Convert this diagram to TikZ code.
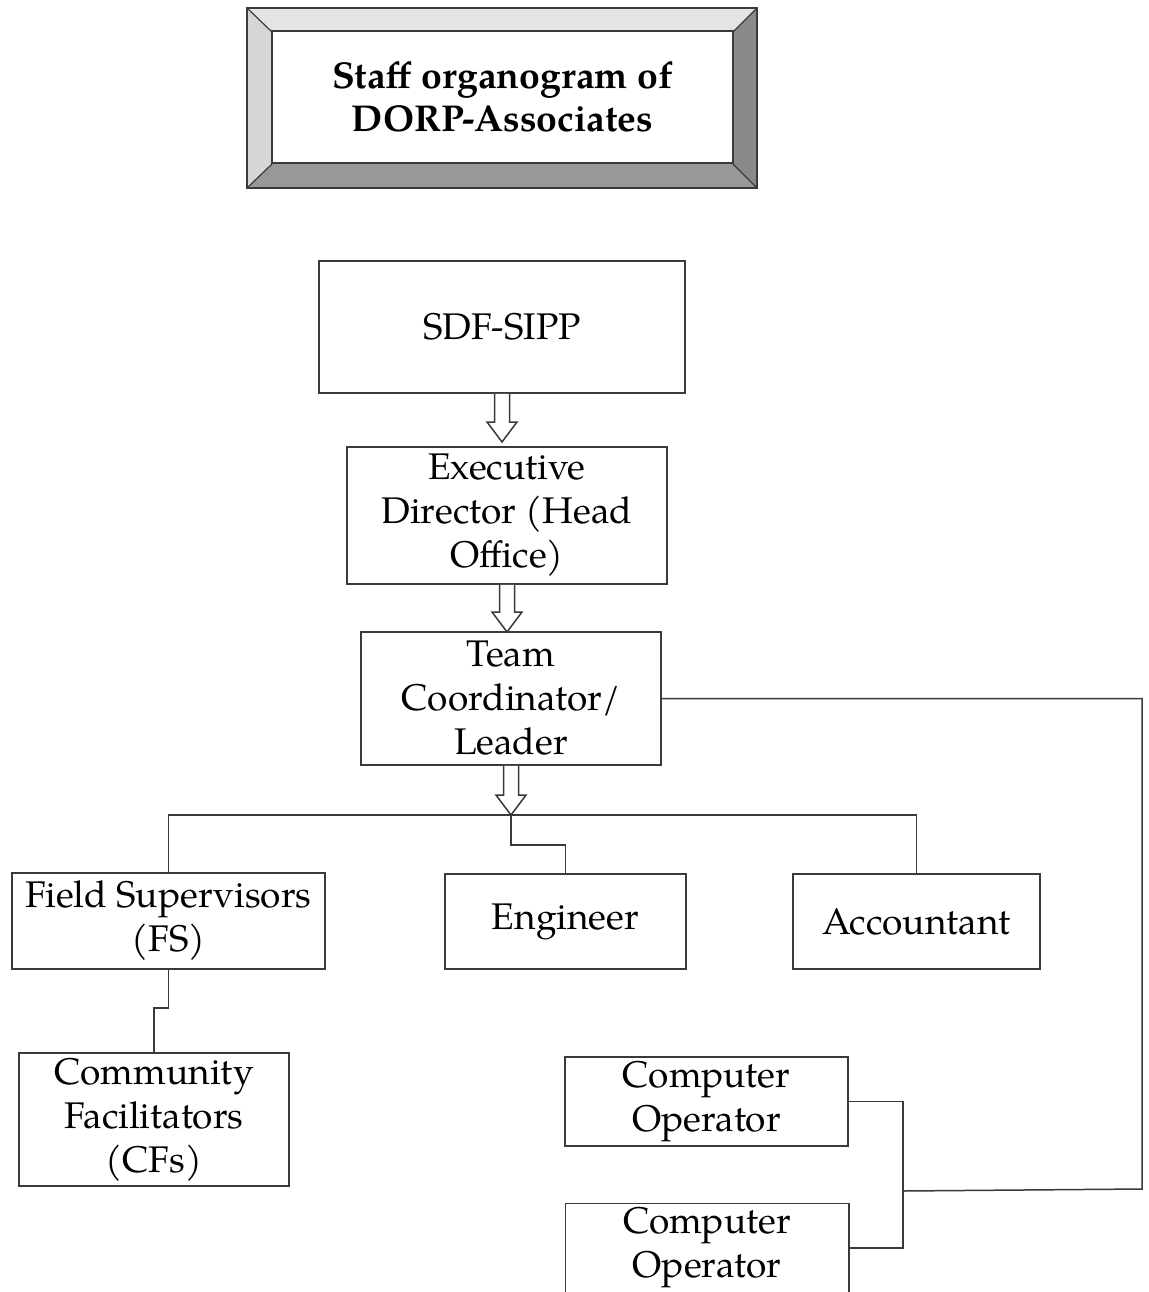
\documentclass[tikz,border=0pt]{standalone}
\usepackage{fontspec}
\setmainfont{TeX Gyre Pagella}
\usetikzlibrary{calc}
\definecolor{ln}{HTML}{3A3A3A}
\definecolor{bvtop}{HTML}{E4E4E4}
\definecolor{bvleft}{HTML}{D6D6D6}
\definecolor{bvright}{HTML}{8A8A8A}
\definecolor{bvbot}{HTML}{989898}
\tikzset{
  box/.style={draw=ln, line width=1.125pt, fill=white, inner sep=0pt, align=center,
    font=\fontsize{27.8}{33}\selectfont},
  conn/.style={draw=ln, line width=1.125pt},
  harrow/.style={draw=ln, line width=1.125pt, fill=white, line join=miter},
}
\newcommand{\hollowarrow}[2]{%
  \fill[white] ($(#1)+(-7.5,0)$) -- ($(#2)+(-7.5,-20)$) -- ($(#2)+(-15,-20)$) -- (#2) -- ($(#2)+(15,-20)$) -- ($(#2)+(7.5,-20)$) -- ($(#1)+(7.5,0)$) -- cycle;
  \draw[harrow,fill=none] ($(#1)+(-7.5,0)$) -- ($(#2)+(-7.5,-20)$) -- ($(#2)+(-15,-20)$) -- (#2) -- ($(#2)+(15,-20)$) -- ($(#2)+(7.5,-20)$) -- ($(#1)+(7.5,0)$);
}
\begin{document}
\begin{tikzpicture}[x=0.75pt,y=-0.75pt]
\useasboundingbox (0,0) rectangle (1149,1292);
\clip (0,0) rectangle (1149,1292);
\fill[white] (0,0) rectangle (1149,1292);
% bevelled title frame
\fill[bvtop] (247,8) -- (757,8) -- (733,32) -- (272,32) -- cycle;
\fill[bvleft] (247,8) -- (272,32) -- (272,164) -- (247,188) -- cycle;
\fill[bvright] (757,8) -- (757,188) -- (733,164) -- (733,32) -- cycle;
\fill[bvbot] (247,188) -- (272,164) -- (733,164) -- (757,188) -- cycle;
\draw[ln, line width=1.125pt] (247,8) rectangle (757,188);
\draw[ln, line width=0.9pt] (247,8) -- (272,32) (757,8) -- (733,32) (247,188) -- (272,164) (757,188) -- (733,164);
\node[box, minimum width=461*0.75pt, minimum height=132*0.75pt, font=\fontsize{28}{32.5}\selectfont\bfseries] (title) at (502.5,97) {Staff organogram of\\DORP-Associates};

\node[box, minimum width=366*0.75pt, minimum height=132*0.75pt] (sdf) at (502,327) {SDF-SIPP};
\node[box, minimum width=320*0.75pt, minimum height=137*0.75pt] (exec) at (507,515.5) {Executive\\Director (Head\\Office)};
\node[box, minimum width=300*0.75pt, minimum height=133*0.75pt] (team) at (511,698.5) {Team\\Coordinator/\\Leader};
\node[box, minimum width=313*0.75pt, minimum height=96*0.75pt] (fs) at (168.5,921) {Field Supervisors\\(FS)};
\node[box, minimum width=241*0.75pt, minimum height=95*0.75pt] (eng) at (565.5,921.5) {Engineer};
\node[box, minimum width=247*0.75pt, minimum height=95*0.75pt] (acc) at (916.5,921.5) {Accountant};
\node[box, minimum width=270*0.75pt, minimum height=133*0.75pt] (cf) at (154,1119.5) {Community\\Facilitators\\(CFs)};
\node[box, minimum width=283*0.75pt, minimum height=89*0.75pt] (co1) at (706.5,1101.5) {Computer\\Operator};
\node[box, draw=none, minimum width=282*0.75pt, minimum height=88*0.75pt] (co2) at (707,1248) {Computer\\Operator};
\draw[conn] ($(co2.south west)+(0,20)$) -- (co2.north west) -- (co2.north east) -- ($(co2.south east)+(0,20)$);

% hollow arrows
\coordinate (tip1) at (502,442);
\coordinate (tip2) at (507,632);
\coordinate (busc) at (511,815);
\hollowarrow{sdf.south}{tip1}
\hollowarrow{exec.south}{tip2}
\hollowarrow{team.south}{busc}

% connectors
\draw[conn] (fs.north) -- (fs.north |- busc) -- (acc.north |- busc) -- (acc.north);
\draw[conn] (busc) -- ++(0,30) -| (eng.north);
\draw[conn] (fs.south) -- ++(0,38) -| (cf.north);
\coordinate (jn) at (903,1191);
\coordinate (rc) at (1142,1189);
\draw[conn] (co1.east) -| (jn) |- (co2.east);
\draw[conn] (jn) -- (rc) -- (rc |- team.east) -- (team.east);
\end{tikzpicture}
\end{document}
